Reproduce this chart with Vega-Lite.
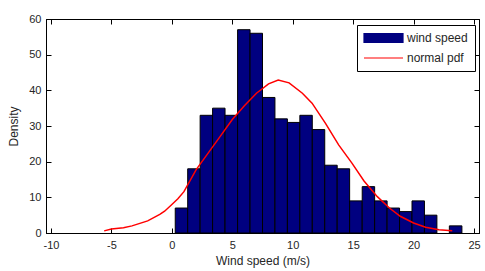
{
  "$schema": "https://vega.github.io/schema/vega-lite/v6.json",
  "width": 433,
  "height": 214,
  "autosize": {"type": "none"},
  "padding": {"left": 46, "top": 19, "right": 6, "bottom": 38},
  "background": "white",
  "config": {
    "view": {"stroke": "black", "strokeWidth": 1},
    "font": "Liberation Sans",
    "axis": {
      "domainColor": "black",
      "tickColor": "black",
      "labelColor": "#262626",
      "titleColor": "#262626",
      "labelFont": "Liberation Sans",
      "titleFont": "Liberation Sans",
      "labelFontSize": 11,
      "titleFontSize": 12,
      "titleFontWeight": "normal",
      "grid": false
    },
    "legend": {
      "labelFont": "Liberation Sans",
      "labelFontSize": 12,
      "labelColor": "#262626"
    }
  },
  "datasets": {
    "hist": [
      {"x0": 0.28, "x1": 1.31, "density": 7, "series": "wind speed"},
      {"x0": 1.31, "x1": 2.34, "density": 18, "series": "wind speed"},
      {"x0": 2.34, "x1": 3.37, "density": 33, "series": "wind speed"},
      {"x0": 3.37, "x1": 4.4, "density": 35, "series": "wind speed"},
      {"x0": 4.4, "x1": 5.44, "density": 33, "series": "wind speed"},
      {"x0": 5.44, "x1": 6.47, "density": 57, "series": "wind speed"},
      {"x0": 6.47, "x1": 7.5, "density": 56, "series": "wind speed"},
      {"x0": 7.5, "x1": 8.53, "density": 38, "series": "wind speed"},
      {"x0": 8.53, "x1": 9.56, "density": 32, "series": "wind speed"},
      {"x0": 9.56, "x1": 10.59, "density": 31, "series": "wind speed"},
      {"x0": 10.59, "x1": 11.62, "density": 33, "series": "wind speed"},
      {"x0": 11.62, "x1": 12.65, "density": 29, "series": "wind speed"},
      {"x0": 12.65, "x1": 13.68, "density": 19, "series": "wind speed"},
      {"x0": 13.68, "x1": 14.71, "density": 18, "series": "wind speed"},
      {"x0": 14.71, "x1": 15.75, "density": 9, "series": "wind speed"},
      {"x0": 15.75, "x1": 16.78, "density": 13, "series": "wind speed"},
      {"x0": 16.78, "x1": 17.81, "density": 9, "series": "wind speed"},
      {"x0": 17.81, "x1": 18.84, "density": 7, "series": "wind speed"},
      {"x0": 18.84, "x1": 19.87, "density": 6, "series": "wind speed"},
      {"x0": 19.87, "x1": 20.9, "density": 9, "series": "wind speed"},
      {"x0": 20.9, "x1": 21.93, "density": 5, "series": "wind speed"},
      {"x0": 22.96, "x1": 24.0, "density": 2, "series": "wind speed"}
    ],
    "pdf": [
      {"x": -5.6, "y": 0.6, "series": "normal pdf"},
      {"x": -5.0, "y": 1.1, "series": "normal pdf"},
      {"x": -4.0, "y": 1.5, "series": "normal pdf"},
      {"x": -3.3, "y": 2.0, "series": "normal pdf"},
      {"x": -2.0, "y": 3.4, "series": "normal pdf"},
      {"x": -1.0, "y": 5.2, "series": "normal pdf"},
      {"x": -0.6, "y": 6.1, "series": "normal pdf"},
      {"x": 0.0, "y": 8.0, "series": "normal pdf"},
      {"x": 0.5, "y": 9.6, "series": "normal pdf"},
      {"x": 1.0, "y": 11.6, "series": "normal pdf"},
      {"x": 2.0, "y": 17.7, "series": "normal pdf"},
      {"x": 3.0, "y": 22.4, "series": "normal pdf"},
      {"x": 4.0, "y": 27.1, "series": "normal pdf"},
      {"x": 5.0, "y": 31.8, "series": "normal pdf"},
      {"x": 6.0, "y": 35.7, "series": "normal pdf"},
      {"x": 7.0, "y": 39.2, "series": "normal pdf"},
      {"x": 8.0, "y": 41.8, "series": "normal pdf"},
      {"x": 8.8, "y": 42.9, "series": "normal pdf"},
      {"x": 9.7, "y": 42.1, "series": "normal pdf"},
      {"x": 10.8, "y": 39.2, "series": "normal pdf"},
      {"x": 11.6, "y": 36.4, "series": "normal pdf"},
      {"x": 12.7, "y": 30.8, "series": "normal pdf"},
      {"x": 13.8, "y": 24.7, "series": "normal pdf"},
      {"x": 14.9, "y": 19.6, "series": "normal pdf"},
      {"x": 15.9, "y": 14.6, "series": "normal pdf"},
      {"x": 17.0, "y": 10.2, "series": "normal pdf"},
      {"x": 18.0, "y": 7.0, "series": "normal pdf"},
      {"x": 18.9, "y": 4.7, "series": "normal pdf"},
      {"x": 20.0, "y": 2.8, "series": "normal pdf"},
      {"x": 21.0, "y": 1.6, "series": "normal pdf"},
      {"x": 22.1, "y": 0.9, "series": "normal pdf"},
      {"x": 23.2, "y": 0.6, "series": "normal pdf"}
    ]
  },
  "layer": [
    {
      "data": {"name": "hist"},
      "mark": {"type": "bar", "stroke": "black", "strokeWidth": 1, "opacity": 1, "orient": "vertical"},
      "encoding": {
        "x": {
          "field": "x0", "type": "quantitative",
          "scale": {"domain": [-10, 25], "nice": false},
          "axis": {
            "orient": "bottom",
            "values": [-10, -5, 0, 5, 10, 15, 20, 25],
            "labelExpr": "'' + datum.value",
            "tickSize": -5,
            "labelPadding": 11,
            "title": "Wind speed (m/s)",
            "titlePadding": 5,
            "labelFlush": false,
            "labelAlign": "center",
            "labelBound": false
          }
        },
        "x2": {"field": "x1"},
        "y": {
          "field": "density", "type": "quantitative",
          "scale": {"domain": [0, 60], "nice": false},
          "axis": {
            "orient": "left",
            "values": [0, 10, 20, 30, 40, 50, 60],
            "tickSize": -5,
            "labelPadding": 10,
            "title": "Density",
            "titlePadding": 8,
            "labelFlush": false
          }
        },
        "y2": {"datum": 0},
        "color": {
          "field": "series", "type": "nominal",
          "scale": {"domain": ["wind speed", "normal pdf"], "range": ["#000080", "#ff0000"]},
          "legend": {
            "orient": "none",
            "legendX": 311,
            "legendY": 6,
            "title": null,
            "strokeColor": "black",
            "fillColor": "white",
            "padding": 7,
            "symbolSize": 100,
            "symbolStrokeWidth": 1.2,
            "labelOffset": 31,
            "rowPadding": 7,
            "symbolOpacity": 1,
            "encoding": {
              "symbols": {
                "shape": {"value": {"expr": "datum.value === 'wind speed' ? 'M-1.2,-0.9H6.6V0.9H-1.2Z' : 'M-1.2,0H6.6'"}},
                "fill": {"value": {"expr": "datum.value === 'wind speed' ? '#000080' : 'transparent'"}},
                "stroke": {"value": {"expr": "datum.value === 'wind speed' ? 'black' : '#ff0000'"}}
              }
            }
          }
        }
      }
    },
    {
      "data": {"name": "pdf"},
      "mark": {"type": "line", "strokeWidth": 1.5},
      "encoding": {
        "x": {
          "field": "x", "type": "quantitative",
          "axis": {"orient": "top", "values": [-10, -5, 0, 5, 10, 15, 20, 25], "tickSize": -5, "labels": false, "title": null}
        },
        "y": {
          "field": "y", "type": "quantitative",
          "axis": {"orient": "right", "values": [0, 10, 20, 30, 40, 50, 60], "tickSize": -5, "labels": false, "title": null}
        },
        "color": {"field": "series", "type": "nominal"}
      }
    }
  ],
  "resolve": {"axis": {"x": "independent", "y": "independent"}}
}
